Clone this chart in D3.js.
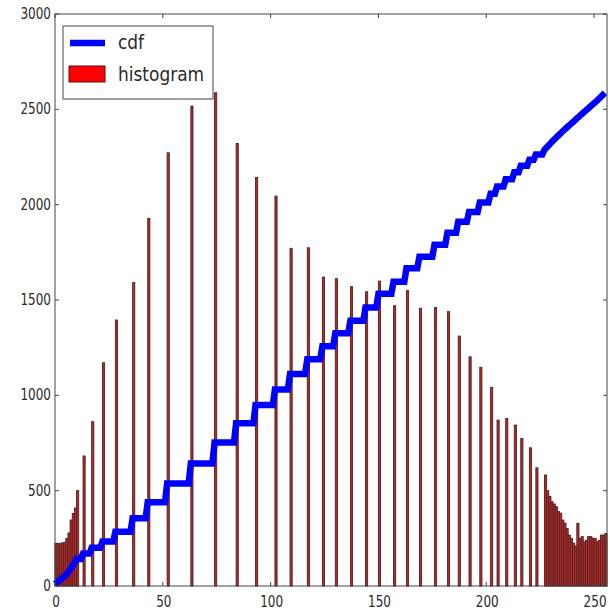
<!DOCTYPE html>
<html>
<head>
<meta charset="utf-8">
<script src="https://cdn.jsdelivr.net/npm/d3@7"></script>
<style>
  html, body { margin: 0; padding: 0; background: #fff; }
  svg { display: block; }
  text { font-family: "DejaVu Sans", "Liberation Sans", sans-serif; fill: #2a2a2a; }
</style>
</head>
<body>
<svg id="chart" width="610" height="611"></svg>
<script>
// ---- data ----
// histogram: dense low-intensity bins 0..10
const leftDenseCounts = [224, 224, 222, 226, 228, 250, 278, 346, 380, 409, 500];
// histogram: isolated spikes (bin index and count)
const spikeBins   = [13, 17, 22, 28, 36, 43, 52, 63, 74, 84, 93, 102, 109, 117, 124, 130, 137, 144, 150, 157, 163, 169, 176, 182, 187, 192, 197, 202, 205, 209, 213, 216, 220, 223, 227];
const spikeCounts = [682, 862, 1171, 1395, 1592, 1928, 2272, 2517, 2587, 2321, 2143, 2045, 1771, 1774, 1620, 1612, 1570, 1543, 1599, 1470, 1549, 1457, 1460, 1439, 1311, 1202, 1147, 1042, 870, 879, 844, 774, 725, 620, 582];
// histogram: dense high-intensity bins 228..255
const rightDenseStart = 228;
const rightDenseCounts = [500, 470, 442, 430, 416, 390, 382, 346, 330, 302, 267, 250, 225, 210, 329, 250, 259, 232, 240, 259, 259, 250, 250, 232, 240, 267, 267, 276];
// normalised cdf: value reached at each listed bin (level holds until the next listed bin)
const cdfBins   = [0, 1, 2, 3, 4, 5, 6, 7, 8, 9, 10, 13, 17, 22, 28, 36, 43, 52, 63, 74, 84, 93, 102, 109, 117, 124, 130, 137, 144, 150, 157, 163, 169, 176, 182, 187, 192, 197, 202, 205, 209, 213, 216, 220, 223, 227,
                   228, 229, 230, 231, 232, 233, 234, 235, 236, 237, 238, 239, 240, 241, 242, 243, 244, 245, 246, 247, 248, 249, 250, 251, 252, 253, 254, 255];
const cdfValues = [10, 19, 29, 38, 48, 59, 71, 86, 103, 120, 142, 170, 200, 233, 285, 355, 439, 538, 643, 753, 853, 949, 1031, 1112, 1189, 1258, 1325, 1391, 1461, 1533, 1596, 1666, 1727, 1790, 1853, 1910, 1962, 2012, 2057, 2095, 2133, 2170, 2204, 2236, 2263, 2288,
                   2300, 2312, 2324, 2336, 2347, 2358, 2369, 2380, 2391, 2401, 2411, 2421, 2431, 2441, 2452, 2462, 2472, 2482, 2492, 2502, 2512, 2522, 2532, 2542, 2553, 2564, 2575, 2587];
const xTicks = [0, 50, 100, 150, 200, 250];
const yTicks = [0, 500, 1000, 1500, 2000, 2500, 3000];
const legendLabels = ["cdf", "histogram"];

// ---- build tables ----
const hist = new Array(256).fill(0);
leftDenseCounts.forEach((c, i) => { hist[i] = c; });
spikeBins.forEach((b, i) => { hist[b] = spikeCounts[i]; });
rightDenseCounts.forEach((c, i) => { hist[rightDenseStart + i] = c; });
// step table of the cdf, one entry per intensity 0..255
const cdfTable = [];
let k = 0, level = cdfValues[0];
for (let i = 0; i < 256; i++) {
  if (k < cdfBins.length && cdfBins[k] === i) { level = cdfValues[k]; k++; }
  cdfTable.push(level);
}

// ---- layout ----
const L = 55, R = 607, T = 14, B = 586;
const svg = d3.select("#chart");
const x = d3.scaleLinear().domain([0, 256]).range([L, R]);
const y = d3.scaleLinear().domain([0, 3000]).range([B, T]);
const SX = 0.8; // horizontal squeeze of tick text as in the reference

// bars
svg.append("g").selectAll("rect")
  .data(hist.map((c, i) => ({ i, c })).filter(d => d.c > 0))
  .join("rect")
  .attr("x", d => x(d.i))
  .attr("width", d => x(d.i + 1) - x(d.i))
  .attr("y", d => y(d.c))
  .attr("height", d => y(0) - y(d.c))
  .attr("fill", "#c02424")
  .attr("stroke", "#4a2626")
  .attr("stroke-width", 0.9);

// cdf line
svg.append("path")
  .datum(cdfTable)
  .attr("fill", "none")
  .attr("stroke", "#0000ff")
  .attr("stroke-width", 6.5)
  .attr("stroke-linejoin", "miter")
  .attr("d", d3.line().x((d, i) => x(i)).y(d => y(d)));

// frame
svg.append("rect")
  .attr("x", L).attr("y", T)
  .attr("width", R - L).attr("height", B - T)
  .attr("fill", "none").attr("stroke", "#444").attr("stroke-width", 1);

// ticks (inward on all four sides)
const tl = 4;
const tg = svg.append("g").attr("stroke", "#444").attr("stroke-width", 1);
xTicks.forEach(t => {
  tg.append("line").attr("x1", x(t)).attr("x2", x(t)).attr("y1", B).attr("y2", B - tl);
  tg.append("line").attr("x1", x(t)).attr("x2", x(t)).attr("y1", T).attr("y2", T + tl);
});
yTicks.forEach(t => {
  tg.append("line").attr("x1", L).attr("x2", L + tl).attr("y1", y(t)).attr("y2", y(t));
  tg.append("line").attr("x1", R).attr("x2", R - tl).attr("y1", y(t)).attr("y2", y(t));
});

// tick labels
svg.append("g").selectAll("text").data(xTicks).join("text")
  .attr("transform", d => `translate(${x(d) + 1},607) scale(${SX},1)`)
  .attr("text-anchor", "middle")
  .attr("font-size", 15)
  .text(d => d);
svg.append("g").selectAll("text").data(yTicks).join("text")
  .attr("transform", d => `translate(51,${y(d) + 5}) scale(${SX},1)`)
  .attr("text-anchor", "end")
  .attr("font-size", 15)
  .text(d => d);

// legend
const lg = svg.append("g");
lg.append("rect").attr("x", 63).attr("y", 26).attr("width", 150).attr("height", 73)
  .attr("fill", "#fff").attr("stroke", "#444").attr("stroke-width", 1);
lg.append("line").attr("x1", 70).attr("x2", 105).attr("y1", 43).attr("y2", 43)
  .attr("stroke", "#0000ff").attr("stroke-width", 6.5);
lg.append("rect").attr("x", 69).attr("y", 66).attr("width", 36).attr("height", 16)
  .attr("fill", "#ff0000").attr("stroke", "#5a1010").attr("stroke-width", 1);
lg.selectAll("text.lab").data(legendLabels).join("text")
  .attr("class", "lab")
  .attr("transform", (d, i) => `translate(118,${49 + i * 32}) scale(0.85,1)`)
  .attr("font-size", 20)
  .text(d => d);
</script>
</body>
</html>
